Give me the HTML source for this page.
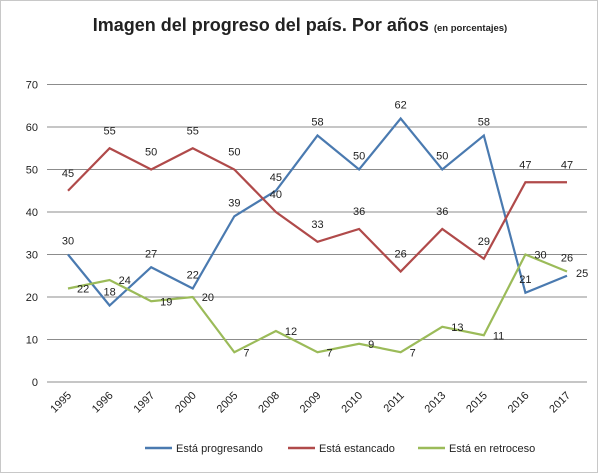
<!DOCTYPE html>
<html><head><meta charset="utf-8">
<style>
body{margin:0;background:#fff;}
svg{display:block;font-family:"Liberation Sans",sans-serif;}
</style></head>
<body>
<svg id="chart" width="600" height="473">
<rect x="0.5" y="0.5" width="597" height="472" fill="#fff" stroke="#c8c8c8"/>
<text x="300" y="31" text-anchor="middle" font-size="18" font-weight="bold" fill="#222">Imagen del progreso del país. Por años <tspan font-size="9.5" font-weight="bold">(en porcentajes)</tspan></text>
<g id="grid"></g><g id="series"></g><g id="labels"></g>
<g>
<line x1="145" y1="448" x2="172" y2="448" stroke="#4a7ab0" stroke-width="2.5"/>
<text x="176" y="452" font-size="11" fill="#222">Está progresando</text>
<line x1="288" y1="448" x2="315" y2="448" stroke="#b04a4a" stroke-width="2.5"/>
<text x="319" y="452" font-size="11" fill="#222">Está estancado</text>
<line x1="418" y1="448" x2="445" y2="448" stroke="#9bbb59" stroke-width="2.5"/>
<text x="449" y="452" font-size="11" fill="#222">Está en retroceso</text>
</g>
</svg>
<script>
const categories=["1995","1996","1997","2000","2005","2008","2009","2010","2011","2013","2015","2016","2017"];
const progresando=[30,18,27,22,39,45,58,50,62,50,58,21,25];
const estancado=[45,55,50,55,50,40,33,36,26,36,29,47,47];
const retroceso=[22,24,19,20,7,12,7,9,7,13,11,30,26];
const yTicks=[0,10,20,30,40,50,60,70];
const NS="http://www.w3.org/2000/svg";
const x0=68,x1=567,yb=382,yt=84.5,ymax=70,gl=47,gr=587;
function xs(i){return x0+(x1-x0)*i/(categories.length-1);}
function ys(v){return yb-(yb-yt)*v/ymax;}
function mk(t,a,p){const e=document.createElementNS(NS,t);for(const k in a)e.setAttribute(k,a[k]);p.appendChild(e);return e;}
const grid=document.getElementById('grid');
yTicks.forEach(v=>{
  const l=mk('line',{x1:gl,x2:gr,y1:ys(v),y2:ys(v),stroke:'#8c8c8c','stroke-width':1},grid);
  
  
  const t=mk('text',{x:38,y:ys(v)+4,'text-anchor':'end','font-size':11,fill:'#222'},grid);
  t.textContent=v;
  
  
});
categories.forEach((c,i)=>{
  const t=mk('text',{x:xs(i)+4,y:396,'text-anchor':'end','font-size':11,fill:'#222',transform:`rotate(-45 ${xs(i)+4} 396)`},grid);
  t.textContent=c;
  
  
});
const ser=document.getElementById('series'),lab=document.getElementById('labels');
const defs=[
 {name:'progresando',vals:progresando,color:'#4a7ab0',dx:0,dy:-10,anchor:'middle'},
 {name:'estancado',vals:estancado,color:'#b04a4a',dx:0,dy:-14,anchor:'middle'},
 {name:'retroceso',vals:retroceso,color:'#9bbb59',dx:9,dy:4,anchor:'start'}
];
defs.forEach(s=>{
  const p=mk('polyline',{points:s.vals.map((v,i)=>xs(i)+','+ys(v)).join(' '),fill:'none',stroke:s.color,'stroke-width':2.2},ser);
  
  
  s.vals.forEach((v,i)=>{
    let dx=s.dx,dy=s.dy,an=s.anchor;
    if(s.name==='progresando'&&i===categories.length-1){dx=9;dy=1;an='start';}
    if(s.name==='retroceso'&&i===categories.length-1){dx=0;dy=-10;an='middle';}
    const t=mk('text',{x:xs(i)+dx,y:ys(v)+dy,'text-anchor':an,'font-size':11,fill:'#222'},lab);
    t.textContent=v;
    
    
  });
});
</script>
</body></html>
